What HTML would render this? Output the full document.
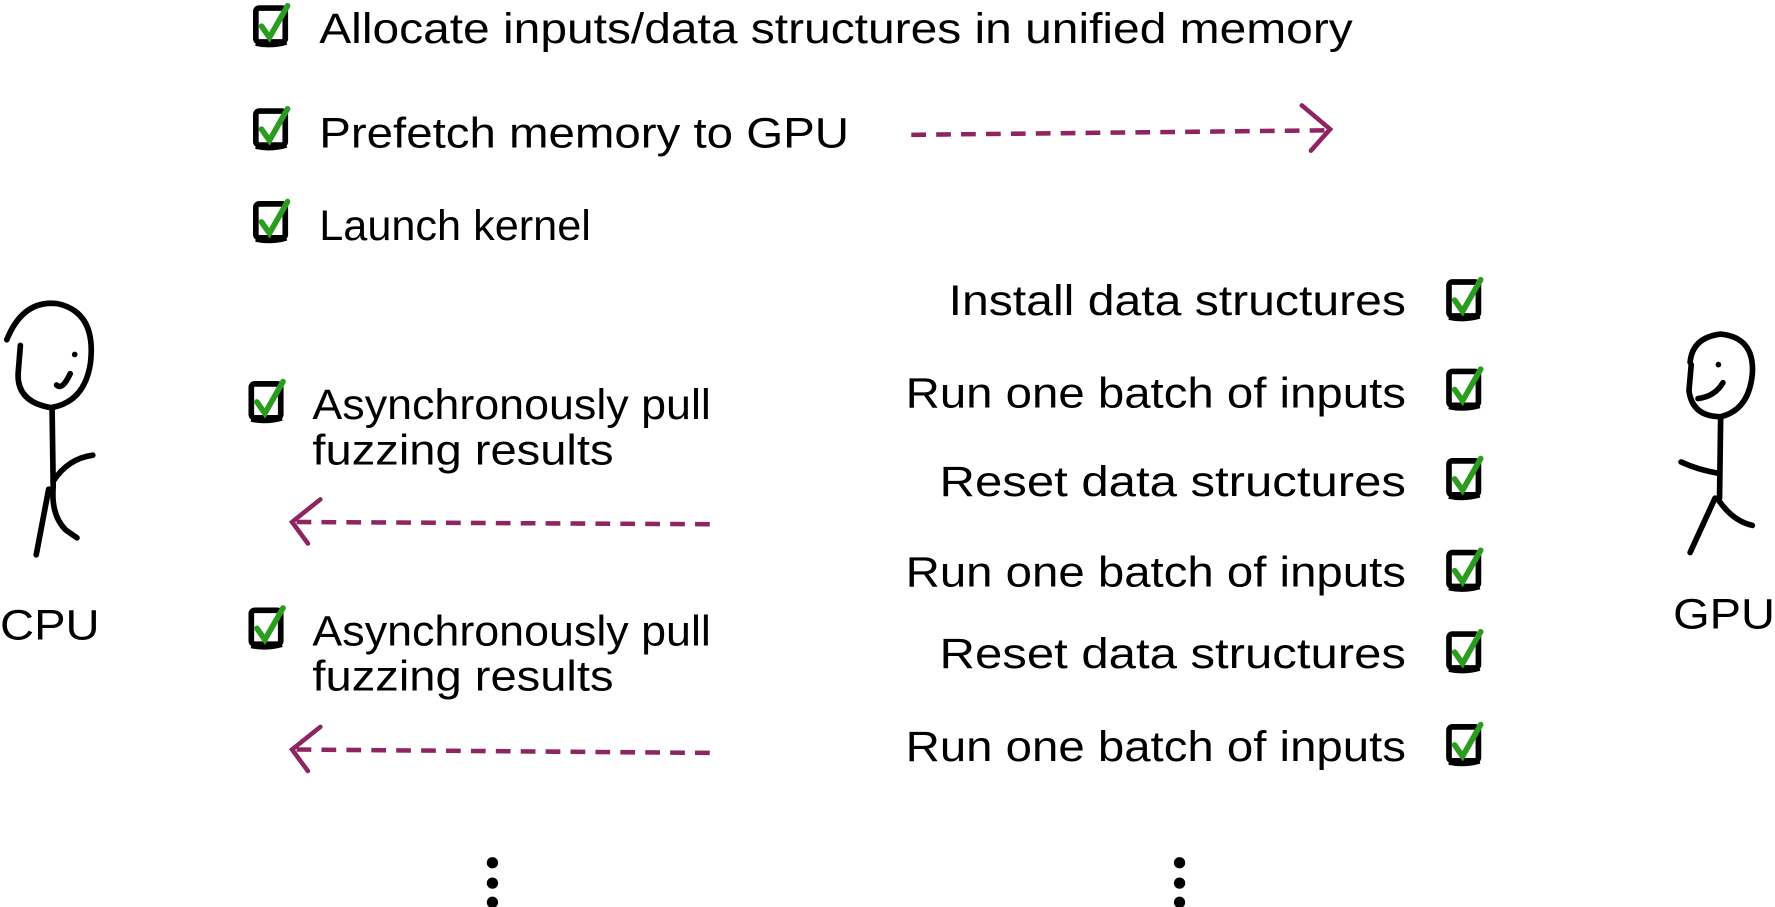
<!DOCTYPE html>
<html><head><meta charset="utf-8"><style>
html,body{margin:0;padding:0;background:#fff;}
svg{display:block;}
text{font-family:"Liberation Sans",sans-serif;font-size:38px;fill:#000;}
</style></head><body>
<svg width="1775" height="907" viewBox="0 0 1568 801" xmlns="http://www.w3.org/2000/svg">
<defs>
<g id="cb">
<rect x="2" y="2" width="26" height="30" rx="3" fill="none" stroke="#000" stroke-width="5"/>
<path d="M2 33 Q15 36 29 32" stroke="#000" stroke-width="5" fill="none"/>
<path d="M7 18 L14 28 L30 0" stroke="#2a9d1f" stroke-width="5" fill="none" stroke-linecap="round"/>
</g>
</defs>
<!-- top rows -->
<use href="#cb" x="224" y="5"/>
<text x="282" y="38" textLength="913" lengthAdjust="spacingAndGlyphs">Allocate inputs/data structures in unified memory</text>
<use href="#cb" x="224" y="96"/>
<text x="282" y="130" textLength="468" lengthAdjust="spacingAndGlyphs">Prefetch memory to GPU</text>
<use href="#cb" x="224" y="178"/>
<text x="282" y="212" textLength="240" lengthAdjust="spacingAndGlyphs">Launch kernel</text>
<path d="M805 119 L1172 115" stroke="#8e2460" stroke-width="4" stroke-dasharray="13,9" fill="none"/>
<path d="M1150 93 L1175 114 L1158 133" stroke="#8e2460" stroke-width="4" fill="none" stroke-linecap="round"/>
<!-- right column -->
<g text-anchor="end">
<text x="1242" y="278" textLength="404" lengthAdjust="spacingAndGlyphs">Install data structures</text>
<text x="1242" y="360" textLength="442" lengthAdjust="spacingAndGlyphs">Run one batch of inputs</text>
<text x="1242" y="438" textLength="412" lengthAdjust="spacingAndGlyphs">Reset data structures</text>
<text x="1242" y="518" textLength="442" lengthAdjust="spacingAndGlyphs">Run one batch of inputs</text>
<text x="1242" y="590" textLength="412" lengthAdjust="spacingAndGlyphs">Reset data structures</text>
<text x="1242" y="672" textLength="442" lengthAdjust="spacingAndGlyphs">Run one batch of inputs</text>
</g>
<use href="#cb" x="1278" y="247"/>
<use href="#cb" x="1278" y="326"/>
<use href="#cb" x="1278" y="405"/>
<use href="#cb" x="1278" y="486"/>
<use href="#cb" x="1278" y="558"/>
<use href="#cb" x="1278" y="640"/>
<!-- left async -->
<use href="#cb" x="220" y="337"/>
<text x="276" y="370" textLength="352" lengthAdjust="spacingAndGlyphs">Asynchronously pull</text>
<text x="276" y="410" textLength="266" lengthAdjust="spacingAndGlyphs">fuzzing results</text>
<path d="M627 463 L262 461" stroke="#8e2460" stroke-width="4" stroke-dasharray="13,9" fill="none"/>
<path d="M283 441 L258 461 L272 480" stroke="#8e2460" stroke-width="4" fill="none" stroke-linecap="round"/>
<use href="#cb" x="220" y="537"/>
<text x="276" y="570" textLength="352" lengthAdjust="spacingAndGlyphs">Asynchronously pull</text>
<text x="276" y="610" textLength="266" lengthAdjust="spacingAndGlyphs">fuzzing results</text>
<path d="M627 665 L262 662" stroke="#8e2460" stroke-width="4" stroke-dasharray="13,9" fill="none"/>
<path d="M283 642 L258 662 L272 681" stroke="#8e2460" stroke-width="4" fill="none" stroke-linecap="round"/>
<!-- dots -->
<g fill="#000">
<circle cx="435" cy="762" r="5"/><circle cx="435" cy="780" r="5"/><circle cx="435" cy="797" r="5"/>
<circle cx="1042" cy="762" r="5"/><circle cx="1042" cy="780" r="5"/><circle cx="1042" cy="797" r="5"/>
</g>
<!-- CPU figure -->
<g stroke="#000" stroke-width="5" fill="none" stroke-linecap="round">
<path d="M6 300 Q20 265 50 268 Q85 275 80 320 Q75 355 45 360 Q15 355 16 330 L18 305"/>
<path d="M50 340 Q55 345 62 330"/>
<path d="M46 360 L47 430"/>
<path d="M47 425 Q60 405 82 402"/>
<path d="M47 430 Q45 455 58 468 L68 475"/>
<path d="M43 432 L32 490"/>
</g>
<circle cx="66" cy="313" r="2.5"/>
<text x="0" y="565" textLength="88" lengthAdjust="spacingAndGlyphs">CPU</text>
<!-- GPU figure -->
<g stroke="#000" stroke-width="5" fill="none" stroke-linecap="round">
<path d="M1493 320 Q1495 298 1520 295 Q1550 298 1548 330 Q1545 362 1520 368 Q1495 368 1492 345 L1494 322"/>
<path d="M1500 352 Q1515 350 1522 338"/>
<path d="M1520 368 L1519 440"/>
<path d="M1485 408 Q1500 415 1518 418"/>
<path d="M1517 440 Q1530 460 1548 464"/>
<path d="M1515 440 L1493 488"/>
</g>
<circle cx="1518" cy="322" r="2.5"/>
<text x="1478" y="555" textLength="90" lengthAdjust="spacingAndGlyphs">GPU</text>
</svg>
</body></html>
